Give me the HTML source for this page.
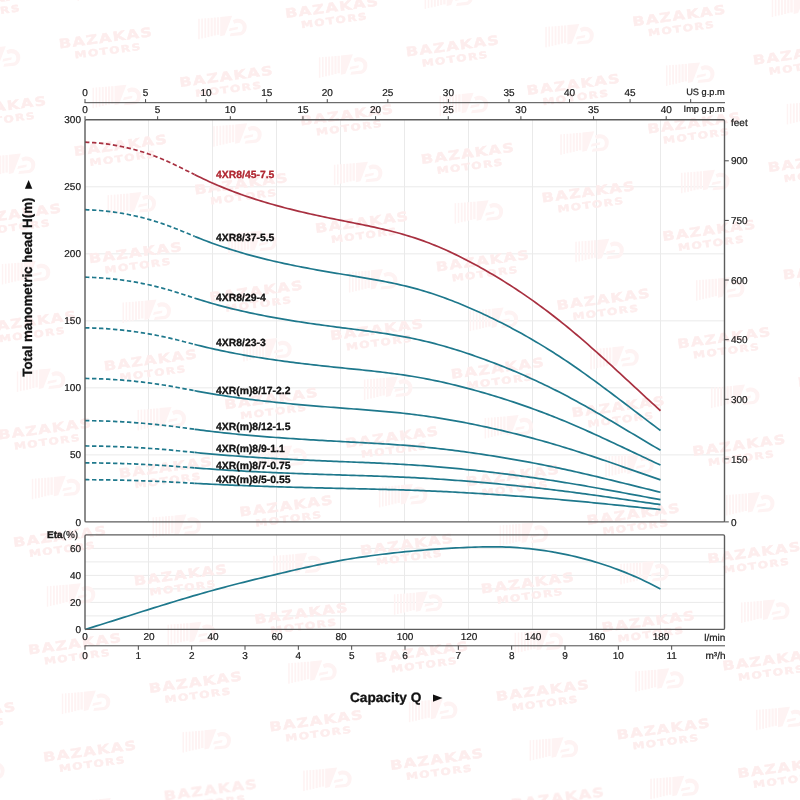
<!DOCTYPE html>
<html lang="en">
<head>
<meta charset="utf-8">
<title>4XR8 pump performance curves</title>
<style>
html,body{margin:0;padding:0;background:#fff;}
body{width:800px;height:800px;overflow:hidden;}
svg{display:block;}
text{font-family:"Liberation Sans", Arial, Helvetica, sans-serif;text-rendering:geometricPrecision;}
.t{font-size:10px;fill:#1a1a1a;stroke:#1a1a1a;stroke-width:0.22px;}
.b{font-size:10.5px;font-weight:bold;fill:#111111;}
.bb{font-weight:bold;stroke-width:0.3px;}
.wm text{font-family:"DejaVu Sans","Liberation Sans",sans-serif;font-weight:bold;fill:#fdeded;stroke:#fdeded;stroke-width:0.45px;letter-spacing:1.1px;}
</style>
</head>
<body>
<svg width="800" height="800" viewBox="0 0 800 800">
<rect x="0" y="0" width="800" height="800" fill="#ffffff"/>
<g stroke="#eaeaea" stroke-width="1.0" fill="none">
<line x1="148.50" y1="119.80" x2="148.50" y2="521.90"/>
<line x1="148.50" y1="534.90" x2="148.50" y2="629.40"/>
<line x1="212.50" y1="119.80" x2="212.50" y2="521.90"/>
<line x1="212.50" y1="534.90" x2="212.50" y2="629.40"/>
<line x1="276.50" y1="119.80" x2="276.50" y2="521.90"/>
<line x1="276.50" y1="534.90" x2="276.50" y2="629.40"/>
<line x1="340.50" y1="119.80" x2="340.50" y2="521.90"/>
<line x1="340.50" y1="534.90" x2="340.50" y2="629.40"/>
<line x1="404.50" y1="119.80" x2="404.50" y2="521.90"/>
<line x1="404.50" y1="534.90" x2="404.50" y2="629.40"/>
<line x1="468.50" y1="119.80" x2="468.50" y2="521.90"/>
<line x1="468.50" y1="534.90" x2="468.50" y2="629.40"/>
<line x1="532.50" y1="119.80" x2="532.50" y2="521.90"/>
<line x1="532.50" y1="534.90" x2="532.50" y2="629.40"/>
<line x1="596.50" y1="119.80" x2="596.50" y2="521.90"/>
<line x1="596.50" y1="534.90" x2="596.50" y2="629.40"/>
<line x1="660.50" y1="119.80" x2="660.50" y2="521.90"/>
<line x1="660.50" y1="534.90" x2="660.50" y2="629.40"/>
<line x1="85.00" y1="454.88" x2="724.50" y2="454.88"/>
<line x1="85.00" y1="387.87" x2="724.50" y2="387.87"/>
<line x1="85.00" y1="320.85" x2="724.50" y2="320.85"/>
<line x1="85.00" y1="253.83" x2="724.50" y2="253.83"/>
<line x1="85.00" y1="186.82" x2="724.50" y2="186.82"/>
<line x1="85.00" y1="615.90" x2="724.50" y2="615.90"/>
<line x1="85.00" y1="602.40" x2="724.50" y2="602.40"/>
<line x1="85.00" y1="588.90" x2="724.50" y2="588.90"/>
<line x1="85.00" y1="575.40" x2="724.50" y2="575.40"/>
<line x1="85.00" y1="561.90" x2="724.50" y2="561.90"/>
<line x1="85.00" y1="548.40" x2="724.50" y2="548.40"/>
</g>
<defs><g id="lg" fill="#fef3f3"><rect x="-24.5" y="-8.5" width="1.5" height="20.5"/><rect x="-21.4" y="-8.8" width="1.6" height="20.0"/><rect x="-18.3" y="-9.0" width="1.8" height="19.5"/><rect x="-15.2" y="-9.2" width="1.9" height="19.0"/><rect x="-12.1" y="-9.5" width="2.1" height="18.5"/><rect x="-9.0" y="-9.8" width="2.2" height="18.0"/><rect x="-5.9" y="-10.0" width="2.4" height="17.5"/><path d="M-2.5 -10.3 L9.5 -11.5 L2 8 L-2.5 9 Z"/><path d="M10 -7 C14 -10 21 -9 23.5 -3.5 C25 1 23 6.5 18.5 8 L7 9 L8 6 L17.5 4.8 C20 4 20.5 0.5 19.5 -2 C18 -5 14 -5 11.5 -3.5 Z"/><path d="M7 1 L15.5 -0.5 L15 2 L6 4 Z"/></g></defs>
<filter id="bl" x="-5%" y="-5%" width="110%" height="110%"><feGaussianBlur stdDeviation="0.55"/></filter>
<g class="wm" filter="url(#bl)">
<g transform="translate(-59.9 502.5) rotate(-7.6)"><text x="0" y="-0.3" text-anchor="middle" font-size="12.8px" textLength="95" lengthAdjust="spacingAndGlyphs">BAZAKAS</text><text x="0.5" y="11.8" text-anchor="middle" font-size="9.5px" textLength="67.5" lengthAdjust="spacingAndGlyphs">MOTORS</text></g>
<use href="#lg" x="-49.4" y="556.2"/>
<g transform="translate(-44.9 609.9) rotate(-7.6)"><text x="0" y="-0.3" text-anchor="middle" font-size="12.8px" textLength="95" lengthAdjust="spacingAndGlyphs">BAZAKAS</text><text x="0.5" y="11.8" text-anchor="middle" font-size="9.5px" textLength="67.5" lengthAdjust="spacingAndGlyphs">MOTORS</text></g>
<use href="#lg" x="-34.4" y="663.6"/>
<g transform="translate(-29.9 717.3) rotate(-7.6)"><text x="0" y="-0.3" text-anchor="middle" font-size="12.8px" textLength="95" lengthAdjust="spacingAndGlyphs">BAZAKAS</text><text x="0.5" y="11.8" text-anchor="middle" font-size="9.5px" textLength="67.5" lengthAdjust="spacingAndGlyphs">MOTORS</text></g>
<use href="#lg" x="-19.4" y="771.0"/>
<g transform="translate(-14.9 824.7) rotate(-7.6)"><text x="0" y="-0.3" text-anchor="middle" font-size="12.8px" textLength="95" lengthAdjust="spacingAndGlyphs">BAZAKAS</text><text x="0.5" y="11.8" text-anchor="middle" font-size="9.5px" textLength="67.5" lengthAdjust="spacingAndGlyphs">MOTORS</text></g>
<g transform="translate(-14.2 4.0) rotate(-7.6)"><text x="0" y="-0.3" text-anchor="middle" font-size="12.8px" textLength="95" lengthAdjust="spacingAndGlyphs">BAZAKAS</text><text x="0.5" y="11.8" text-anchor="middle" font-size="9.5px" textLength="67.5" lengthAdjust="spacingAndGlyphs">MOTORS</text></g>
<use href="#lg" x="-3.7" y="57.7"/>
<g transform="translate(0.8 111.4) rotate(-7.6)"><text x="0" y="-0.3" text-anchor="middle" font-size="12.8px" textLength="95" lengthAdjust="spacingAndGlyphs">BAZAKAS</text><text x="0.5" y="11.8" text-anchor="middle" font-size="9.5px" textLength="67.5" lengthAdjust="spacingAndGlyphs">MOTORS</text></g>
<use href="#lg" x="11.3" y="165.1"/>
<g transform="translate(15.8 218.8) rotate(-7.6)"><text x="0" y="-0.3" text-anchor="middle" font-size="12.8px" textLength="95" lengthAdjust="spacingAndGlyphs">BAZAKAS</text><text x="0.5" y="11.8" text-anchor="middle" font-size="9.5px" textLength="67.5" lengthAdjust="spacingAndGlyphs">MOTORS</text></g>
<use href="#lg" x="26.3" y="272.5"/>
<g transform="translate(30.8 326.2) rotate(-7.6)"><text x="0" y="-0.3" text-anchor="middle" font-size="12.8px" textLength="95" lengthAdjust="spacingAndGlyphs">BAZAKAS</text><text x="0.5" y="11.8" text-anchor="middle" font-size="9.5px" textLength="67.5" lengthAdjust="spacingAndGlyphs">MOTORS</text></g>
<use href="#lg" x="41.3" y="379.9"/>
<g transform="translate(45.8 433.6) rotate(-7.6)"><text x="0" y="-0.3" text-anchor="middle" font-size="12.8px" textLength="95" lengthAdjust="spacingAndGlyphs">BAZAKAS</text><text x="0.5" y="11.8" text-anchor="middle" font-size="9.5px" textLength="67.5" lengthAdjust="spacingAndGlyphs">MOTORS</text></g>
<use href="#lg" x="56.3" y="487.3"/>
<g transform="translate(60.8 541.0) rotate(-7.6)"><text x="0" y="-0.3" text-anchor="middle" font-size="12.8px" textLength="95" lengthAdjust="spacingAndGlyphs">BAZAKAS</text><text x="0.5" y="11.8" text-anchor="middle" font-size="9.5px" textLength="67.5" lengthAdjust="spacingAndGlyphs">MOTORS</text></g>
<use href="#lg" x="71.3" y="594.7"/>
<g transform="translate(75.8 648.4) rotate(-7.6)"><text x="0" y="-0.3" text-anchor="middle" font-size="12.8px" textLength="95" lengthAdjust="spacingAndGlyphs">BAZAKAS</text><text x="0.5" y="11.8" text-anchor="middle" font-size="9.5px" textLength="67.5" lengthAdjust="spacingAndGlyphs">MOTORS</text></g>
<use href="#lg" x="86.3" y="702.1"/>
<g transform="translate(90.8 755.8) rotate(-7.6)"><text x="0" y="-0.3" text-anchor="middle" font-size="12.8px" textLength="95" lengthAdjust="spacingAndGlyphs">BAZAKAS</text><text x="0.5" y="11.8" text-anchor="middle" font-size="9.5px" textLength="67.5" lengthAdjust="spacingAndGlyphs">MOTORS</text></g>
<use href="#lg" x="101.3" y="809.5"/>
<use href="#lg" x="102.0" y="-11.2"/>
<g transform="translate(106.5 42.5) rotate(-7.6)"><text x="0" y="-0.3" text-anchor="middle" font-size="12.8px" textLength="95" lengthAdjust="spacingAndGlyphs">BAZAKAS</text><text x="0.5" y="11.8" text-anchor="middle" font-size="9.5px" textLength="67.5" lengthAdjust="spacingAndGlyphs">MOTORS</text></g>
<use href="#lg" x="117.0" y="96.2"/>
<g transform="translate(121.5 149.9) rotate(-7.6)"><text x="0" y="-0.3" text-anchor="middle" font-size="12.8px" textLength="95" lengthAdjust="spacingAndGlyphs">BAZAKAS</text><text x="0.5" y="11.8" text-anchor="middle" font-size="9.5px" textLength="67.5" lengthAdjust="spacingAndGlyphs">MOTORS</text></g>
<use href="#lg" x="132.0" y="203.6"/>
<g transform="translate(136.5 257.3) rotate(-7.6)"><text x="0" y="-0.3" text-anchor="middle" font-size="12.8px" textLength="95" lengthAdjust="spacingAndGlyphs">BAZAKAS</text><text x="0.5" y="11.8" text-anchor="middle" font-size="9.5px" textLength="67.5" lengthAdjust="spacingAndGlyphs">MOTORS</text></g>
<use href="#lg" x="147.0" y="311.0"/>
<g transform="translate(151.5 364.7) rotate(-7.6)"><text x="0" y="-0.3" text-anchor="middle" font-size="12.8px" textLength="95" lengthAdjust="spacingAndGlyphs">BAZAKAS</text><text x="0.5" y="11.8" text-anchor="middle" font-size="9.5px" textLength="67.5" lengthAdjust="spacingAndGlyphs">MOTORS</text></g>
<use href="#lg" x="162.0" y="418.4"/>
<g transform="translate(166.5 472.1) rotate(-7.6)"><text x="0" y="-0.3" text-anchor="middle" font-size="12.8px" textLength="95" lengthAdjust="spacingAndGlyphs">BAZAKAS</text><text x="0.5" y="11.8" text-anchor="middle" font-size="9.5px" textLength="67.5" lengthAdjust="spacingAndGlyphs">MOTORS</text></g>
<use href="#lg" x="177.0" y="525.8"/>
<g transform="translate(181.5 579.5) rotate(-7.6)"><text x="0" y="-0.3" text-anchor="middle" font-size="12.8px" textLength="95" lengthAdjust="spacingAndGlyphs">BAZAKAS</text><text x="0.5" y="11.8" text-anchor="middle" font-size="9.5px" textLength="67.5" lengthAdjust="spacingAndGlyphs">MOTORS</text></g>
<use href="#lg" x="192.0" y="633.2"/>
<g transform="translate(196.5 686.9) rotate(-7.6)"><text x="0" y="-0.3" text-anchor="middle" font-size="12.8px" textLength="95" lengthAdjust="spacingAndGlyphs">BAZAKAS</text><text x="0.5" y="11.8" text-anchor="middle" font-size="9.5px" textLength="67.5" lengthAdjust="spacingAndGlyphs">MOTORS</text></g>
<use href="#lg" x="207.0" y="740.6"/>
<g transform="translate(211.5 794.3) rotate(-7.6)"><text x="0" y="-0.3" text-anchor="middle" font-size="12.8px" textLength="95" lengthAdjust="spacingAndGlyphs">BAZAKAS</text><text x="0.5" y="11.8" text-anchor="middle" font-size="9.5px" textLength="67.5" lengthAdjust="spacingAndGlyphs">MOTORS</text></g>
<use href="#lg" x="222.7" y="27.3"/>
<g transform="translate(227.2 81.0) rotate(-7.6)"><text x="0" y="-0.3" text-anchor="middle" font-size="12.8px" textLength="95" lengthAdjust="spacingAndGlyphs">BAZAKAS</text><text x="0.5" y="11.8" text-anchor="middle" font-size="9.5px" textLength="67.5" lengthAdjust="spacingAndGlyphs">MOTORS</text></g>
<use href="#lg" x="237.7" y="134.7"/>
<g transform="translate(242.2 188.4) rotate(-7.6)"><text x="0" y="-0.3" text-anchor="middle" font-size="12.8px" textLength="95" lengthAdjust="spacingAndGlyphs">BAZAKAS</text><text x="0.5" y="11.8" text-anchor="middle" font-size="9.5px" textLength="67.5" lengthAdjust="spacingAndGlyphs">MOTORS</text></g>
<use href="#lg" x="252.7" y="242.1"/>
<g transform="translate(257.2 295.8) rotate(-7.6)"><text x="0" y="-0.3" text-anchor="middle" font-size="12.8px" textLength="95" lengthAdjust="spacingAndGlyphs">BAZAKAS</text><text x="0.5" y="11.8" text-anchor="middle" font-size="9.5px" textLength="67.5" lengthAdjust="spacingAndGlyphs">MOTORS</text></g>
<use href="#lg" x="267.7" y="349.5"/>
<g transform="translate(272.2 403.2) rotate(-7.6)"><text x="0" y="-0.3" text-anchor="middle" font-size="12.8px" textLength="95" lengthAdjust="spacingAndGlyphs">BAZAKAS</text><text x="0.5" y="11.8" text-anchor="middle" font-size="9.5px" textLength="67.5" lengthAdjust="spacingAndGlyphs">MOTORS</text></g>
<use href="#lg" x="282.7" y="456.9"/>
<g transform="translate(287.2 510.6) rotate(-7.6)"><text x="0" y="-0.3" text-anchor="middle" font-size="12.8px" textLength="95" lengthAdjust="spacingAndGlyphs">BAZAKAS</text><text x="0.5" y="11.8" text-anchor="middle" font-size="9.5px" textLength="67.5" lengthAdjust="spacingAndGlyphs">MOTORS</text></g>
<use href="#lg" x="297.7" y="564.3"/>
<g transform="translate(302.2 618.0) rotate(-7.6)"><text x="0" y="-0.3" text-anchor="middle" font-size="12.8px" textLength="95" lengthAdjust="spacingAndGlyphs">BAZAKAS</text><text x="0.5" y="11.8" text-anchor="middle" font-size="9.5px" textLength="67.5" lengthAdjust="spacingAndGlyphs">MOTORS</text></g>
<use href="#lg" x="312.7" y="671.7"/>
<g transform="translate(317.2 725.4) rotate(-7.6)"><text x="0" y="-0.3" text-anchor="middle" font-size="12.8px" textLength="95" lengthAdjust="spacingAndGlyphs">BAZAKAS</text><text x="0.5" y="11.8" text-anchor="middle" font-size="9.5px" textLength="67.5" lengthAdjust="spacingAndGlyphs">MOTORS</text></g>
<use href="#lg" x="327.7" y="779.1"/>
<g transform="translate(332.9 12.1) rotate(-7.6)"><text x="0" y="-0.3" text-anchor="middle" font-size="12.8px" textLength="95" lengthAdjust="spacingAndGlyphs">BAZAKAS</text><text x="0.5" y="11.8" text-anchor="middle" font-size="9.5px" textLength="67.5" lengthAdjust="spacingAndGlyphs">MOTORS</text></g>
<use href="#lg" x="343.4" y="65.8"/>
<g transform="translate(347.9 119.5) rotate(-7.6)"><text x="0" y="-0.3" text-anchor="middle" font-size="12.8px" textLength="95" lengthAdjust="spacingAndGlyphs">BAZAKAS</text><text x="0.5" y="11.8" text-anchor="middle" font-size="9.5px" textLength="67.5" lengthAdjust="spacingAndGlyphs">MOTORS</text></g>
<use href="#lg" x="358.4" y="173.2"/>
<g transform="translate(362.9 226.9) rotate(-7.6)"><text x="0" y="-0.3" text-anchor="middle" font-size="12.8px" textLength="95" lengthAdjust="spacingAndGlyphs">BAZAKAS</text><text x="0.5" y="11.8" text-anchor="middle" font-size="9.5px" textLength="67.5" lengthAdjust="spacingAndGlyphs">MOTORS</text></g>
<use href="#lg" x="373.4" y="280.6"/>
<g transform="translate(377.9 334.3) rotate(-7.6)"><text x="0" y="-0.3" text-anchor="middle" font-size="12.8px" textLength="95" lengthAdjust="spacingAndGlyphs">BAZAKAS</text><text x="0.5" y="11.8" text-anchor="middle" font-size="9.5px" textLength="67.5" lengthAdjust="spacingAndGlyphs">MOTORS</text></g>
<use href="#lg" x="388.4" y="388.0"/>
<g transform="translate(392.9 441.7) rotate(-7.6)"><text x="0" y="-0.3" text-anchor="middle" font-size="12.8px" textLength="95" lengthAdjust="spacingAndGlyphs">BAZAKAS</text><text x="0.5" y="11.8" text-anchor="middle" font-size="9.5px" textLength="67.5" lengthAdjust="spacingAndGlyphs">MOTORS</text></g>
<use href="#lg" x="403.4" y="495.4"/>
<g transform="translate(407.9 549.1) rotate(-7.6)"><text x="0" y="-0.3" text-anchor="middle" font-size="12.8px" textLength="95" lengthAdjust="spacingAndGlyphs">BAZAKAS</text><text x="0.5" y="11.8" text-anchor="middle" font-size="9.5px" textLength="67.5" lengthAdjust="spacingAndGlyphs">MOTORS</text></g>
<use href="#lg" x="418.4" y="602.8"/>
<g transform="translate(422.9 656.5) rotate(-7.6)"><text x="0" y="-0.3" text-anchor="middle" font-size="12.8px" textLength="95" lengthAdjust="spacingAndGlyphs">BAZAKAS</text><text x="0.5" y="11.8" text-anchor="middle" font-size="9.5px" textLength="67.5" lengthAdjust="spacingAndGlyphs">MOTORS</text></g>
<use href="#lg" x="433.4" y="710.2"/>
<g transform="translate(437.9 763.9) rotate(-7.6)"><text x="0" y="-0.3" text-anchor="middle" font-size="12.8px" textLength="95" lengthAdjust="spacingAndGlyphs">BAZAKAS</text><text x="0.5" y="11.8" text-anchor="middle" font-size="9.5px" textLength="67.5" lengthAdjust="spacingAndGlyphs">MOTORS</text></g>
<use href="#lg" x="448.4" y="817.6"/>
<use href="#lg" x="449.1" y="-3.1"/>
<g transform="translate(453.6 50.6) rotate(-7.6)"><text x="0" y="-0.3" text-anchor="middle" font-size="12.8px" textLength="95" lengthAdjust="spacingAndGlyphs">BAZAKAS</text><text x="0.5" y="11.8" text-anchor="middle" font-size="9.5px" textLength="67.5" lengthAdjust="spacingAndGlyphs">MOTORS</text></g>
<use href="#lg" x="464.1" y="104.3"/>
<g transform="translate(468.6 158.0) rotate(-7.6)"><text x="0" y="-0.3" text-anchor="middle" font-size="12.8px" textLength="95" lengthAdjust="spacingAndGlyphs">BAZAKAS</text><text x="0.5" y="11.8" text-anchor="middle" font-size="9.5px" textLength="67.5" lengthAdjust="spacingAndGlyphs">MOTORS</text></g>
<use href="#lg" x="479.1" y="211.7"/>
<g transform="translate(483.6 265.4) rotate(-7.6)"><text x="0" y="-0.3" text-anchor="middle" font-size="12.8px" textLength="95" lengthAdjust="spacingAndGlyphs">BAZAKAS</text><text x="0.5" y="11.8" text-anchor="middle" font-size="9.5px" textLength="67.5" lengthAdjust="spacingAndGlyphs">MOTORS</text></g>
<use href="#lg" x="494.1" y="319.1"/>
<g transform="translate(498.6 372.8) rotate(-7.6)"><text x="0" y="-0.3" text-anchor="middle" font-size="12.8px" textLength="95" lengthAdjust="spacingAndGlyphs">BAZAKAS</text><text x="0.5" y="11.8" text-anchor="middle" font-size="9.5px" textLength="67.5" lengthAdjust="spacingAndGlyphs">MOTORS</text></g>
<use href="#lg" x="509.1" y="426.5"/>
<g transform="translate(513.6 480.2) rotate(-7.6)"><text x="0" y="-0.3" text-anchor="middle" font-size="12.8px" textLength="95" lengthAdjust="spacingAndGlyphs">BAZAKAS</text><text x="0.5" y="11.8" text-anchor="middle" font-size="9.5px" textLength="67.5" lengthAdjust="spacingAndGlyphs">MOTORS</text></g>
<use href="#lg" x="524.1" y="533.9"/>
<g transform="translate(528.6 587.6) rotate(-7.6)"><text x="0" y="-0.3" text-anchor="middle" font-size="12.8px" textLength="95" lengthAdjust="spacingAndGlyphs">BAZAKAS</text><text x="0.5" y="11.8" text-anchor="middle" font-size="9.5px" textLength="67.5" lengthAdjust="spacingAndGlyphs">MOTORS</text></g>
<use href="#lg" x="539.1" y="641.3"/>
<g transform="translate(543.6 695.0) rotate(-7.6)"><text x="0" y="-0.3" text-anchor="middle" font-size="12.8px" textLength="95" lengthAdjust="spacingAndGlyphs">BAZAKAS</text><text x="0.5" y="11.8" text-anchor="middle" font-size="9.5px" textLength="67.5" lengthAdjust="spacingAndGlyphs">MOTORS</text></g>
<use href="#lg" x="554.1" y="748.7"/>
<g transform="translate(558.6 802.4) rotate(-7.6)"><text x="0" y="-0.3" text-anchor="middle" font-size="12.8px" textLength="95" lengthAdjust="spacingAndGlyphs">BAZAKAS</text><text x="0.5" y="11.8" text-anchor="middle" font-size="9.5px" textLength="67.5" lengthAdjust="spacingAndGlyphs">MOTORS</text></g>
<g transform="translate(559.3 -18.3) rotate(-7.6)"><text x="0" y="-0.3" text-anchor="middle" font-size="12.8px" textLength="95" lengthAdjust="spacingAndGlyphs">BAZAKAS</text><text x="0.5" y="11.8" text-anchor="middle" font-size="9.5px" textLength="67.5" lengthAdjust="spacingAndGlyphs">MOTORS</text></g>
<use href="#lg" x="569.8" y="35.4"/>
<g transform="translate(574.3 89.1) rotate(-7.6)"><text x="0" y="-0.3" text-anchor="middle" font-size="12.8px" textLength="95" lengthAdjust="spacingAndGlyphs">BAZAKAS</text><text x="0.5" y="11.8" text-anchor="middle" font-size="9.5px" textLength="67.5" lengthAdjust="spacingAndGlyphs">MOTORS</text></g>
<use href="#lg" x="584.8" y="142.8"/>
<g transform="translate(589.3 196.5) rotate(-7.6)"><text x="0" y="-0.3" text-anchor="middle" font-size="12.8px" textLength="95" lengthAdjust="spacingAndGlyphs">BAZAKAS</text><text x="0.5" y="11.8" text-anchor="middle" font-size="9.5px" textLength="67.5" lengthAdjust="spacingAndGlyphs">MOTORS</text></g>
<use href="#lg" x="599.8" y="250.2"/>
<g transform="translate(604.3 303.9) rotate(-7.6)"><text x="0" y="-0.3" text-anchor="middle" font-size="12.8px" textLength="95" lengthAdjust="spacingAndGlyphs">BAZAKAS</text><text x="0.5" y="11.8" text-anchor="middle" font-size="9.5px" textLength="67.5" lengthAdjust="spacingAndGlyphs">MOTORS</text></g>
<use href="#lg" x="614.8" y="357.6"/>
<g transform="translate(619.3 411.3) rotate(-7.6)"><text x="0" y="-0.3" text-anchor="middle" font-size="12.8px" textLength="95" lengthAdjust="spacingAndGlyphs">BAZAKAS</text><text x="0.5" y="11.8" text-anchor="middle" font-size="9.5px" textLength="67.5" lengthAdjust="spacingAndGlyphs">MOTORS</text></g>
<use href="#lg" x="629.8" y="465.0"/>
<g transform="translate(634.3 518.7) rotate(-7.6)"><text x="0" y="-0.3" text-anchor="middle" font-size="12.8px" textLength="95" lengthAdjust="spacingAndGlyphs">BAZAKAS</text><text x="0.5" y="11.8" text-anchor="middle" font-size="9.5px" textLength="67.5" lengthAdjust="spacingAndGlyphs">MOTORS</text></g>
<use href="#lg" x="644.8" y="572.4"/>
<g transform="translate(649.3 626.1) rotate(-7.6)"><text x="0" y="-0.3" text-anchor="middle" font-size="12.8px" textLength="95" lengthAdjust="spacingAndGlyphs">BAZAKAS</text><text x="0.5" y="11.8" text-anchor="middle" font-size="9.5px" textLength="67.5" lengthAdjust="spacingAndGlyphs">MOTORS</text></g>
<use href="#lg" x="659.8" y="679.8"/>
<g transform="translate(664.3 733.5) rotate(-7.6)"><text x="0" y="-0.3" text-anchor="middle" font-size="12.8px" textLength="95" lengthAdjust="spacingAndGlyphs">BAZAKAS</text><text x="0.5" y="11.8" text-anchor="middle" font-size="9.5px" textLength="67.5" lengthAdjust="spacingAndGlyphs">MOTORS</text></g>
<use href="#lg" x="674.8" y="787.2"/>
<g transform="translate(680.0 20.2) rotate(-7.6)"><text x="0" y="-0.3" text-anchor="middle" font-size="12.8px" textLength="95" lengthAdjust="spacingAndGlyphs">BAZAKAS</text><text x="0.5" y="11.8" text-anchor="middle" font-size="9.5px" textLength="67.5" lengthAdjust="spacingAndGlyphs">MOTORS</text></g>
<use href="#lg" x="690.5" y="73.9"/>
<g transform="translate(695.0 127.6) rotate(-7.6)"><text x="0" y="-0.3" text-anchor="middle" font-size="12.8px" textLength="95" lengthAdjust="spacingAndGlyphs">BAZAKAS</text><text x="0.5" y="11.8" text-anchor="middle" font-size="9.5px" textLength="67.5" lengthAdjust="spacingAndGlyphs">MOTORS</text></g>
<use href="#lg" x="705.5" y="181.3"/>
<g transform="translate(710.0 235.0) rotate(-7.6)"><text x="0" y="-0.3" text-anchor="middle" font-size="12.8px" textLength="95" lengthAdjust="spacingAndGlyphs">BAZAKAS</text><text x="0.5" y="11.8" text-anchor="middle" font-size="9.5px" textLength="67.5" lengthAdjust="spacingAndGlyphs">MOTORS</text></g>
<use href="#lg" x="720.5" y="288.7"/>
<g transform="translate(725.0 342.4) rotate(-7.6)"><text x="0" y="-0.3" text-anchor="middle" font-size="12.8px" textLength="95" lengthAdjust="spacingAndGlyphs">BAZAKAS</text><text x="0.5" y="11.8" text-anchor="middle" font-size="9.5px" textLength="67.5" lengthAdjust="spacingAndGlyphs">MOTORS</text></g>
<use href="#lg" x="735.5" y="396.1"/>
<g transform="translate(740.0 449.8) rotate(-7.6)"><text x="0" y="-0.3" text-anchor="middle" font-size="12.8px" textLength="95" lengthAdjust="spacingAndGlyphs">BAZAKAS</text><text x="0.5" y="11.8" text-anchor="middle" font-size="9.5px" textLength="67.5" lengthAdjust="spacingAndGlyphs">MOTORS</text></g>
<use href="#lg" x="750.5" y="503.5"/>
<g transform="translate(755.0 557.2) rotate(-7.6)"><text x="0" y="-0.3" text-anchor="middle" font-size="12.8px" textLength="95" lengthAdjust="spacingAndGlyphs">BAZAKAS</text><text x="0.5" y="11.8" text-anchor="middle" font-size="9.5px" textLength="67.5" lengthAdjust="spacingAndGlyphs">MOTORS</text></g>
<use href="#lg" x="765.5" y="610.9"/>
<g transform="translate(770.0 664.6) rotate(-7.6)"><text x="0" y="-0.3" text-anchor="middle" font-size="12.8px" textLength="95" lengthAdjust="spacingAndGlyphs">BAZAKAS</text><text x="0.5" y="11.8" text-anchor="middle" font-size="9.5px" textLength="67.5" lengthAdjust="spacingAndGlyphs">MOTORS</text></g>
<use href="#lg" x="780.5" y="718.3"/>
<g transform="translate(785.0 772.0) rotate(-7.6)"><text x="0" y="-0.3" text-anchor="middle" font-size="12.8px" textLength="95" lengthAdjust="spacingAndGlyphs">BAZAKAS</text><text x="0.5" y="11.8" text-anchor="middle" font-size="9.5px" textLength="67.5" lengthAdjust="spacingAndGlyphs">MOTORS</text></g>
<use href="#lg" x="796.2" y="5.0"/>
<g transform="translate(800.7 58.7) rotate(-7.6)"><text x="0" y="-0.3" text-anchor="middle" font-size="12.8px" textLength="95" lengthAdjust="spacingAndGlyphs">BAZAKAS</text><text x="0.5" y="11.8" text-anchor="middle" font-size="9.5px" textLength="67.5" lengthAdjust="spacingAndGlyphs">MOTORS</text></g>
<use href="#lg" x="811.2" y="112.4"/>
<g transform="translate(815.7 166.1) rotate(-7.6)"><text x="0" y="-0.3" text-anchor="middle" font-size="12.8px" textLength="95" lengthAdjust="spacingAndGlyphs">BAZAKAS</text><text x="0.5" y="11.8" text-anchor="middle" font-size="9.5px" textLength="67.5" lengthAdjust="spacingAndGlyphs">MOTORS</text></g>
<use href="#lg" x="826.2" y="219.8"/>
<g transform="translate(830.7 273.5) rotate(-7.6)"><text x="0" y="-0.3" text-anchor="middle" font-size="12.8px" textLength="95" lengthAdjust="spacingAndGlyphs">BAZAKAS</text><text x="0.5" y="11.8" text-anchor="middle" font-size="9.5px" textLength="67.5" lengthAdjust="spacingAndGlyphs">MOTORS</text></g>
<use href="#lg" x="841.2" y="327.2"/>
<g transform="translate(845.7 380.9) rotate(-7.6)"><text x="0" y="-0.3" text-anchor="middle" font-size="12.8px" textLength="95" lengthAdjust="spacingAndGlyphs">BAZAKAS</text><text x="0.5" y="11.8" text-anchor="middle" font-size="9.5px" textLength="67.5" lengthAdjust="spacingAndGlyphs">MOTORS</text></g>
<use href="#lg" x="856.2" y="434.6"/>
</g>
<path d="M85.00 142.20 L87.89 142.31 L90.78 142.46 L93.68 142.65 L96.57 142.88 L99.46 143.15 L102.35 143.46 L105.24 143.81 L108.14 144.20 L111.03 144.62 L113.92 145.09 L116.81 145.60 L119.70 146.15 L122.60 146.74 L125.49 147.38 L128.38 148.05 L131.27 148.77 L134.16 149.52 L137.06 150.33 L139.95 151.17 L142.84 152.05 L145.73 152.98 L148.62 153.95 L151.52 154.97 L154.41 156.03 L157.30 157.13 L160.19 158.28 L163.08 159.47 L165.97 160.70 L168.87 161.98 L171.76 163.31 L174.65 164.67 L177.54 166.07 L180.43 167.49 L183.33 168.94 L186.22 170.39 L189.11 171.86 L192.00 173.31 L194.50 174.56" fill="none" stroke="#a83040" stroke-width="1.7" stroke-dasharray="4.4 2.6" stroke-dashoffset="0"/>
<path d="M194.50 174.56 L194.89 174.76 L197.79 176.19 L200.68 177.60 L203.57 178.98 L206.46 180.33 L209.35 181.65 L212.25 182.94 L215.14 184.20 L218.03 185.44 L220.92 186.65 L223.81 187.84 L226.71 189.00 L229.60 190.14 L232.49 191.25 L235.38 192.33 L238.27 193.40 L241.17 194.44 L244.06 195.46 L246.95 196.46 L249.84 197.43 L252.73 198.39 L255.63 199.32 L258.52 200.24 L261.41 201.14 L264.30 202.02 L267.19 202.88 L270.09 203.72 L272.98 204.55 L275.87 205.36 L278.76 206.15 L281.65 206.93 L284.55 207.70 L287.44 208.45 L290.33 209.18 L293.22 209.91 L296.11 210.62 L299.01 211.31 L301.90 212.00 L304.79 212.68 L307.68 213.34 L310.57 214.00 L313.46 214.64 L316.36 215.28 L319.25 215.91 L322.14 216.53 L325.03 217.14 L327.92 217.75 L330.82 218.35 L333.71 218.94 L336.60 219.53 L339.49 220.12 L342.38 220.70 L345.28 221.27 L348.17 221.85 L351.06 222.43 L353.95 223.00 L356.84 223.58 L359.74 224.16 L362.63 224.75 L365.52 225.35 L368.41 225.95 L371.30 226.57 L374.20 227.19 L377.09 227.83 L379.98 228.48 L382.87 229.14 L385.76 229.83 L388.66 230.53 L391.55 231.25 L394.44 231.99 L397.33 232.76 L400.22 233.55 L403.12 234.36 L406.01 235.20 L408.90 236.07 L411.79 236.97 L414.68 237.90 L417.58 238.86 L420.47 239.86 L423.36 240.89 L426.25 241.95 L429.14 243.05 L432.04 244.18 L434.93 245.35 L437.82 246.54 L440.71 247.77 L443.60 249.03 L446.49 250.32 L449.39 251.64 L452.28 252.99 L455.17 254.36 L458.06 255.77 L460.95 257.20 L463.85 258.66 L466.74 260.14 L469.63 261.65 L472.52 263.19 L475.41 264.75 L478.31 266.33 L481.20 267.93 L484.09 269.56 L486.98 271.22 L489.87 272.89 L492.77 274.59 L495.66 276.31 L498.55 278.06 L501.44 279.83 L504.33 281.62 L507.23 283.44 L510.12 285.28 L513.01 287.15 L515.90 289.04 L518.79 290.96 L521.69 292.90 L524.58 294.87 L527.47 296.86 L530.36 298.88 L533.25 300.92 L536.15 302.99 L539.04 305.08 L541.93 307.21 L544.82 309.35 L547.71 311.53 L550.61 313.73 L553.50 315.96 L556.39 318.21 L559.28 320.49 L562.17 322.80 L565.07 325.14 L567.96 327.50 L570.85 329.89 L573.74 332.31 L576.63 334.75 L579.53 337.21 L582.42 339.70 L585.31 342.20 L588.20 344.73 L591.09 347.27 L593.98 349.83 L596.88 352.41 L599.77 355.00 L602.66 357.60 L605.55 360.22 L608.44 362.85 L611.34 365.49 L614.23 368.13 L617.12 370.79 L620.01 373.45 L622.90 376.12 L625.80 378.79 L628.69 381.46 L631.58 384.14 L634.47 386.82 L637.36 389.49 L640.26 392.17 L643.15 394.84 L646.04 397.51 L648.93 400.17 L651.82 402.83 L654.72 405.48 L657.61 408.12 L660.50 410.75" fill="none" stroke="#a83040" stroke-width="1.7"/>
<path d="M85.00 209.70 L87.89 209.79 L90.78 209.92 L93.68 210.07 L96.57 210.26 L99.46 210.48 L102.35 210.74 L105.24 211.02 L108.14 211.34 L111.03 211.70 L113.92 212.08 L116.81 212.50 L119.70 212.95 L122.60 213.44 L125.49 213.96 L128.38 214.51 L131.27 215.10 L134.16 215.72 L137.06 216.38 L139.95 217.08 L142.84 217.80 L145.73 218.57 L148.62 219.37 L151.52 220.20 L154.41 221.07 L157.30 221.98 L160.19 222.92 L163.08 223.90 L165.97 224.91 L168.87 225.97 L171.76 227.06 L174.65 228.18 L177.54 229.33 L180.43 230.50 L183.33 231.69 L186.22 232.88 L189.11 234.09 L192.00 235.28 L194.50 236.31" fill="none" stroke="#1e788c" stroke-width="1.7" stroke-dasharray="4.4 2.6" stroke-dashoffset="0"/>
<path d="M194.50 236.31 L194.89 236.48 L197.79 237.65 L200.68 238.81 L203.57 239.94 L206.46 241.05 L209.35 242.14 L212.25 243.20 L215.14 244.24 L218.03 245.26 L220.92 246.25 L223.81 247.23 L226.71 248.18 L229.60 249.12 L232.49 250.03 L235.38 250.92 L238.27 251.80 L241.17 252.65 L244.06 253.49 L246.95 254.31 L249.84 255.12 L252.73 255.90 L255.63 256.67 L258.52 257.42 L261.41 258.16 L264.30 258.89 L267.19 259.59 L270.09 260.29 L272.98 260.97 L275.87 261.63 L278.76 262.29 L281.65 262.93 L284.55 263.55 L287.44 264.17 L290.33 264.78 L293.22 265.37 L296.11 265.96 L299.01 266.53 L301.90 267.09 L304.79 267.65 L307.68 268.20 L310.57 268.74 L313.46 269.27 L316.36 269.79 L319.25 270.31 L322.14 270.82 L325.03 271.32 L327.92 271.82 L330.82 272.31 L333.71 272.80 L336.60 273.29 L339.49 273.77 L342.38 274.24 L345.28 274.72 L348.17 275.19 L351.06 275.67 L353.95 276.14 L356.84 276.62 L359.74 277.09 L362.63 277.58 L365.52 278.07 L368.41 278.56 L371.30 279.07 L374.20 279.58 L377.09 280.11 L379.98 280.64 L382.87 281.19 L385.76 281.75 L388.66 282.33 L391.55 282.92 L394.44 283.53 L397.33 284.16 L400.22 284.81 L403.12 285.48 L406.01 286.17 L408.90 286.88 L411.79 287.62 L414.68 288.39 L417.58 289.18 L420.47 290.00 L423.36 290.85 L426.25 291.72 L429.14 292.62 L432.04 293.56 L434.93 294.51 L437.82 295.50 L440.71 296.51 L443.60 297.54 L446.49 298.60 L449.39 299.69 L452.28 300.79 L455.17 301.93 L458.06 303.08 L460.95 304.26 L463.85 305.46 L466.74 306.68 L469.63 307.92 L472.52 309.18 L475.41 310.46 L478.31 311.76 L481.20 313.08 L484.09 314.42 L486.98 315.78 L489.87 317.16 L492.77 318.56 L495.66 319.97 L498.55 321.41 L501.44 322.86 L504.33 324.34 L507.23 325.83 L510.12 327.35 L513.01 328.88 L515.90 330.44 L518.79 332.01 L521.69 333.61 L524.58 335.23 L527.47 336.87 L530.36 338.52 L533.25 340.20 L536.15 341.91 L539.04 343.63 L541.93 345.37 L544.82 347.14 L547.71 348.93 L550.61 350.74 L553.50 352.57 L556.39 354.42 L559.28 356.30 L562.17 358.20 L565.07 360.12 L567.96 362.06 L570.85 364.03 L573.74 366.01 L576.63 368.02 L579.53 370.05 L582.42 372.09 L585.31 374.15 L588.20 376.23 L591.09 378.32 L593.98 380.42 L596.88 382.54 L599.77 384.67 L602.66 386.81 L605.55 388.96 L608.44 391.12 L611.34 393.29 L614.23 395.47 L617.12 397.65 L620.01 399.84 L622.90 402.03 L625.80 404.23 L628.69 406.43 L631.58 408.63 L634.47 410.83 L637.36 413.03 L640.26 415.23 L643.15 417.43 L646.04 419.62 L648.93 421.81 L651.82 424.00 L654.72 426.18 L657.61 428.35 L660.50 430.51" fill="none" stroke="#1e788c" stroke-width="1.7"/>
<path d="M85.00 277.20 L87.89 277.27 L90.78 277.37 L93.68 277.50 L96.57 277.64 L99.46 277.82 L102.35 278.02 L105.24 278.24 L108.14 278.49 L111.03 278.77 L113.92 279.07 L116.81 279.40 L119.70 279.75 L122.60 280.13 L125.49 280.54 L128.38 280.97 L131.27 281.44 L134.16 281.92 L137.06 282.44 L139.95 282.98 L142.84 283.55 L145.73 284.15 L148.62 284.78 L151.52 285.43 L154.41 286.11 L157.30 286.83 L160.19 287.56 L163.08 288.33 L165.97 289.13 L168.87 289.95 L171.76 290.81 L174.65 291.69 L177.54 292.59 L180.43 293.51 L183.33 294.44 L186.22 295.37 L189.11 296.32 L192.00 297.26 L194.50 298.06" fill="none" stroke="#1e788c" stroke-width="1.7" stroke-dasharray="4.4 2.6" stroke-dashoffset="0"/>
<path d="M194.50 298.06 L194.89 298.19 L197.79 299.11 L200.68 300.02 L203.57 300.91 L206.46 301.78 L209.35 302.63 L212.25 303.46 L215.14 304.27 L218.03 305.07 L220.92 305.85 L223.81 306.62 L226.71 307.36 L229.60 308.10 L232.49 308.81 L235.38 309.51 L238.27 310.20 L241.17 310.87 L244.06 311.53 L246.95 312.17 L249.84 312.80 L252.73 313.42 L255.63 314.02 L258.52 314.61 L261.41 315.19 L264.30 315.75 L267.19 316.31 L270.09 316.85 L272.98 317.38 L275.87 317.91 L278.76 318.42 L281.65 318.92 L284.55 319.41 L287.44 319.90 L290.33 320.37 L293.22 320.84 L296.11 321.30 L299.01 321.75 L301.90 322.19 L304.79 322.62 L307.68 323.05 L310.57 323.47 L313.46 323.89 L316.36 324.30 L319.25 324.71 L322.14 325.11 L325.03 325.50 L327.92 325.89 L330.82 326.28 L333.71 326.66 L336.60 327.04 L339.49 327.42 L342.38 327.79 L345.28 328.16 L348.17 328.53 L351.06 328.91 L353.95 329.28 L356.84 329.65 L359.74 330.03 L362.63 330.40 L365.52 330.79 L368.41 331.18 L371.30 331.57 L374.20 331.98 L377.09 332.39 L379.98 332.81 L382.87 333.24 L385.76 333.68 L388.66 334.13 L391.55 334.59 L394.44 335.07 L397.33 335.56 L400.22 336.07 L403.12 336.60 L406.01 337.14 L408.90 337.70 L411.79 338.28 L414.68 338.88 L417.58 339.50 L420.47 340.14 L423.36 340.80 L426.25 341.49 L429.14 342.20 L432.04 342.93 L434.93 343.68 L437.82 344.45 L440.71 345.24 L443.60 346.05 L446.49 346.88 L449.39 347.73 L452.28 348.60 L455.17 349.49 L458.06 350.39 L460.95 351.31 L463.85 352.25 L466.74 353.21 L469.63 354.18 L472.52 355.17 L475.41 356.18 L478.31 357.20 L481.20 358.23 L484.09 359.28 L486.98 360.35 L489.87 361.43 L492.77 362.52 L495.66 363.63 L498.55 364.76 L501.44 365.90 L504.33 367.05 L507.23 368.23 L510.12 369.41 L513.01 370.62 L515.90 371.84 L518.79 373.07 L521.69 374.32 L524.58 375.59 L527.47 376.87 L530.36 378.17 L533.25 379.49 L536.15 380.82 L539.04 382.17 L541.93 383.54 L544.82 384.93 L547.71 386.33 L550.61 387.75 L553.50 389.18 L556.39 390.63 L559.28 392.10 L562.17 393.59 L565.07 395.10 L567.96 396.62 L570.85 398.16 L573.74 399.72 L576.63 401.29 L579.53 402.88 L582.42 404.48 L585.31 406.10 L588.20 407.72 L591.09 409.36 L593.98 411.01 L596.88 412.67 L599.77 414.34 L602.66 416.02 L605.55 417.71 L608.44 419.40 L611.34 421.10 L614.23 422.81 L617.12 424.52 L620.01 426.23 L622.90 427.95 L625.80 429.67 L628.69 431.40 L631.58 433.12 L634.47 434.85 L637.36 436.57 L640.26 438.30 L643.15 440.02 L646.04 441.74 L648.93 443.45 L651.82 445.17 L654.72 446.87 L657.61 448.58 L660.50 450.27" fill="none" stroke="#1e788c" stroke-width="1.7"/>
<path d="M85.00 327.83 L87.89 327.89 L90.78 327.96 L93.68 328.06 L96.57 328.18 L99.46 328.32 L102.35 328.47 L105.24 328.65 L108.14 328.85 L111.03 329.07 L113.92 329.31 L116.81 329.57 L119.70 329.85 L122.60 330.15 L125.49 330.48 L128.38 330.82 L131.27 331.19 L134.16 331.57 L137.06 331.98 L139.95 332.41 L142.84 332.87 L145.73 333.34 L148.62 333.84 L151.52 334.36 L154.41 334.90 L157.30 335.46 L160.19 336.05 L163.08 336.66 L165.97 337.29 L168.87 337.94 L171.76 338.62 L174.65 339.32 L177.54 340.03 L180.43 340.76 L183.33 341.50 L186.22 342.24 L189.11 342.99 L192.00 343.73 L194.50 344.37" fill="none" stroke="#1e788c" stroke-width="1.7" stroke-dasharray="4.4 2.6" stroke-dashoffset="0"/>
<path d="M194.50 344.37 L194.89 344.47 L197.79 345.21 L200.68 345.92 L203.57 346.63 L206.46 347.32 L209.35 347.99 L212.25 348.65 L215.14 349.30 L218.03 349.93 L220.92 350.55 L223.81 351.16 L226.71 351.75 L229.60 352.33 L232.49 352.90 L235.38 353.46 L238.27 354.00 L241.17 354.53 L244.06 355.05 L246.95 355.56 L249.84 356.06 L252.73 356.55 L255.63 357.03 L258.52 357.50 L261.41 357.96 L264.30 358.40 L267.19 358.84 L270.09 359.28 L272.98 359.70 L275.87 360.11 L278.76 360.52 L281.65 360.92 L284.55 361.31 L287.44 361.69 L290.33 362.07 L293.22 362.44 L296.11 362.80 L299.01 363.16 L301.90 363.51 L304.79 363.85 L307.68 364.19 L310.57 364.53 L313.46 364.86 L316.36 365.18 L319.25 365.50 L322.14 365.82 L325.03 366.14 L327.92 366.45 L330.82 366.75 L333.71 367.06 L336.60 367.36 L339.49 367.66 L342.38 367.95 L345.28 368.25 L348.17 368.54 L351.06 368.84 L353.95 369.13 L356.84 369.43 L359.74 369.72 L362.63 370.02 L365.52 370.33 L368.41 370.64 L371.30 370.95 L374.20 371.27 L377.09 371.60 L379.98 371.93 L382.87 372.27 L385.76 372.62 L388.66 372.98 L391.55 373.35 L394.44 373.73 L397.33 374.12 L400.22 374.52 L403.12 374.94 L406.01 375.37 L408.90 375.81 L411.79 376.27 L414.68 376.74 L417.58 377.24 L420.47 377.74 L423.36 378.27 L426.25 378.82 L429.14 379.38 L432.04 379.96 L434.93 380.55 L437.82 381.16 L440.71 381.79 L443.60 382.43 L446.49 383.09 L449.39 383.77 L452.28 384.46 L455.17 385.16 L458.06 385.88 L460.95 386.61 L463.85 387.35 L466.74 388.11 L469.63 388.88 L472.52 389.67 L475.41 390.47 L478.31 391.27 L481.20 392.10 L484.09 392.93 L486.98 393.77 L489.87 394.63 L492.77 395.50 L495.66 396.38 L498.55 397.27 L501.44 398.17 L504.33 399.09 L507.23 400.02 L510.12 400.96 L513.01 401.92 L515.90 402.88 L518.79 403.86 L521.69 404.86 L524.58 405.86 L527.47 406.88 L530.36 407.91 L533.25 408.95 L536.15 410.01 L539.04 411.08 L541.93 412.17 L544.82 413.27 L547.71 414.38 L550.61 415.50 L553.50 416.64 L556.39 417.79 L559.28 418.96 L562.17 420.14 L565.07 421.33 L567.96 422.54 L570.85 423.76 L573.74 425.00 L576.63 426.25 L579.53 427.50 L582.42 428.77 L585.31 430.05 L588.20 431.35 L591.09 432.65 L593.98 433.95 L596.88 435.27 L599.77 436.59 L602.66 437.93 L605.55 439.26 L608.44 440.61 L611.34 441.96 L614.23 443.31 L617.12 444.67 L620.01 446.03 L622.90 447.39 L625.80 448.75 L628.69 450.12 L631.58 451.49 L634.47 452.86 L637.36 454.23 L640.26 455.59 L643.15 456.96 L646.04 458.32 L648.93 459.68 L651.82 461.04 L654.72 462.40 L657.61 463.75 L660.50 465.09" fill="none" stroke="#1e788c" stroke-width="1.7"/>
<path d="M85.00 378.46 L87.89 378.50 L90.78 378.56 L93.68 378.63 L96.57 378.72 L99.46 378.82 L102.35 378.93 L105.24 379.06 L108.14 379.21 L111.03 379.37 L113.92 379.55 L116.81 379.74 L119.70 379.95 L122.60 380.17 L125.49 380.41 L128.38 380.67 L131.27 380.94 L134.16 381.22 L137.06 381.53 L139.95 381.85 L142.84 382.18 L145.73 382.53 L148.62 382.90 L151.52 383.28 L154.41 383.68 L157.30 384.10 L160.19 384.53 L163.08 384.98 L165.97 385.45 L168.87 385.93 L171.76 386.43 L174.65 386.95 L177.54 387.48 L180.43 388.01 L183.33 388.56 L186.22 389.11 L189.11 389.66 L192.00 390.21 L194.50 390.68" fill="none" stroke="#1e788c" stroke-width="1.7" stroke-dasharray="4.4 2.6" stroke-dashoffset="0"/>
<path d="M194.50 390.68 L194.89 390.76 L197.79 391.30 L200.68 391.83 L203.57 392.35 L206.46 392.86 L209.35 393.36 L212.25 393.85 L215.14 394.33 L218.03 394.79 L220.92 395.25 L223.81 395.70 L226.71 396.14 L229.60 396.57 L232.49 396.99 L235.38 397.40 L238.27 397.80 L241.17 398.19 L244.06 398.58 L246.95 398.95 L249.84 399.32 L252.73 399.68 L255.63 400.04 L258.52 400.38 L261.41 400.72 L264.30 401.06 L267.19 401.38 L270.09 401.70 L272.98 402.01 L275.87 402.32 L278.76 402.62 L281.65 402.91 L284.55 403.20 L287.44 403.48 L290.33 403.76 L293.22 404.04 L296.11 404.30 L299.01 404.57 L301.90 404.83 L304.79 405.08 L307.68 405.33 L310.57 405.58 L313.46 405.83 L316.36 406.07 L319.25 406.30 L322.14 406.54 L325.03 406.77 L327.92 407.00 L330.82 407.23 L333.71 407.45 L336.60 407.67 L339.49 407.89 L342.38 408.11 L345.28 408.33 L348.17 408.55 L351.06 408.77 L353.95 408.98 L356.84 409.20 L359.74 409.42 L362.63 409.64 L365.52 409.87 L368.41 410.10 L371.30 410.33 L374.20 410.56 L377.09 410.81 L379.98 411.05 L382.87 411.30 L385.76 411.56 L388.66 411.83 L391.55 412.10 L394.44 412.38 L397.33 412.67 L400.22 412.97 L403.12 413.27 L406.01 413.59 L408.90 413.92 L411.79 414.26 L414.68 414.61 L417.58 414.97 L420.47 415.35 L423.36 415.74 L426.25 416.14 L429.14 416.56 L432.04 416.98 L434.93 417.42 L437.82 417.88 L440.71 418.34 L443.60 418.82 L446.49 419.30 L449.39 419.80 L452.28 420.31 L455.17 420.83 L458.06 421.36 L460.95 421.90 L463.85 422.45 L466.74 423.01 L469.63 423.58 L472.52 424.16 L475.41 424.75 L478.31 425.35 L481.20 425.96 L484.09 426.57 L486.98 427.20 L489.87 427.83 L492.77 428.47 L495.66 429.12 L498.55 429.78 L501.44 430.45 L504.33 431.13 L507.23 431.82 L510.12 432.51 L513.01 433.22 L515.90 433.93 L518.79 434.66 L521.69 435.39 L524.58 436.13 L527.47 436.88 L530.36 437.65 L533.25 438.42 L536.15 439.20 L539.04 439.99 L541.93 440.79 L544.82 441.60 L547.71 442.43 L550.61 443.26 L553.50 444.10 L556.39 444.95 L559.28 445.81 L562.17 446.69 L565.07 447.57 L567.96 448.46 L570.85 449.36 L573.74 450.28 L576.63 451.20 L579.53 452.13 L582.42 453.07 L585.31 454.01 L588.20 454.97 L591.09 455.93 L593.98 456.90 L596.88 457.87 L599.77 458.85 L602.66 459.83 L605.55 460.82 L608.44 461.81 L611.34 462.81 L614.23 463.81 L617.12 464.81 L620.01 465.82 L622.90 466.83 L625.80 467.84 L628.69 468.85 L631.58 469.86 L634.47 470.87 L637.36 471.88 L640.26 472.89 L643.15 473.90 L646.04 474.91 L648.93 475.91 L651.82 476.92 L654.72 477.92 L657.61 478.92 L660.50 479.91" fill="none" stroke="#1e788c" stroke-width="1.7"/>
<path d="M85.00 420.65 L87.89 420.68 L90.78 420.72 L93.68 420.77 L96.57 420.83 L99.46 420.90 L102.35 420.98 L105.24 421.08 L108.14 421.18 L111.03 421.29 L113.92 421.42 L116.81 421.55 L119.70 421.70 L122.60 421.86 L125.49 422.03 L128.38 422.21 L131.27 422.40 L134.16 422.60 L137.06 422.81 L139.95 423.04 L142.84 423.27 L145.73 423.52 L148.62 423.78 L151.52 424.05 L154.41 424.33 L157.30 424.63 L160.19 424.93 L163.08 425.25 L165.97 425.58 L168.87 425.92 L171.76 426.27 L174.65 426.64 L177.54 427.01 L180.43 427.39 L183.33 427.78 L186.22 428.17 L189.11 428.55 L192.00 428.94 L194.50 429.28" fill="none" stroke="#1e788c" stroke-width="1.7" stroke-dasharray="4.4 2.6" stroke-dashoffset="0"/>
<path d="M194.50 429.28 L194.89 429.33 L197.79 429.71 L200.68 430.09 L203.57 430.45 L206.46 430.81 L209.35 431.17 L212.25 431.51 L215.14 431.85 L218.03 432.18 L220.92 432.50 L223.81 432.82 L226.71 433.13 L229.60 433.43 L232.49 433.73 L235.38 434.02 L238.27 434.30 L241.17 434.58 L244.06 434.85 L246.95 435.12 L249.84 435.38 L252.73 435.63 L255.63 435.88 L258.52 436.12 L261.41 436.36 L264.30 436.60 L267.19 436.83 L270.09 437.05 L272.98 437.27 L275.87 437.49 L278.76 437.70 L281.65 437.91 L284.55 438.11 L287.44 438.31 L290.33 438.51 L293.22 438.70 L296.11 438.89 L299.01 439.08 L301.90 439.26 L304.79 439.44 L307.68 439.62 L310.57 439.79 L313.46 439.97 L316.36 440.13 L319.25 440.30 L322.14 440.47 L325.03 440.63 L327.92 440.79 L330.82 440.95 L333.71 441.11 L336.60 441.27 L339.49 441.42 L342.38 441.58 L345.28 441.73 L348.17 441.89 L351.06 442.04 L353.95 442.19 L356.84 442.35 L359.74 442.50 L362.63 442.66 L365.52 442.82 L368.41 442.98 L371.30 443.14 L374.20 443.31 L377.09 443.48 L379.98 443.65 L382.87 443.83 L385.76 444.01 L388.66 444.20 L391.55 444.39 L394.44 444.59 L397.33 444.80 L400.22 445.01 L403.12 445.22 L406.01 445.45 L408.90 445.68 L411.79 445.92 L414.68 446.17 L417.58 446.42 L420.47 446.69 L423.36 446.96 L426.25 447.25 L429.14 447.54 L432.04 447.84 L434.93 448.15 L437.82 448.47 L440.71 448.80 L443.60 449.13 L446.49 449.48 L449.39 449.83 L452.28 450.19 L455.17 450.56 L458.06 450.93 L460.95 451.31 L463.85 451.70 L466.74 452.10 L469.63 452.50 L472.52 452.91 L475.41 453.33 L478.31 453.75 L481.20 454.18 L484.09 454.61 L486.98 455.05 L489.87 455.50 L492.77 455.95 L495.66 456.41 L498.55 456.88 L501.44 457.35 L504.33 457.83 L507.23 458.31 L510.12 458.80 L513.01 459.30 L515.90 459.80 L518.79 460.32 L521.69 460.83 L524.58 461.36 L527.47 461.89 L530.36 462.43 L533.25 462.97 L536.15 463.52 L539.04 464.08 L541.93 464.65 L544.82 465.22 L547.71 465.80 L550.61 466.39 L553.50 466.98 L556.39 467.58 L559.28 468.19 L562.17 468.81 L565.07 469.43 L567.96 470.06 L570.85 470.70 L573.74 471.34 L576.63 471.99 L579.53 472.65 L582.42 473.31 L585.31 473.98 L588.20 474.65 L591.09 475.33 L593.98 476.02 L596.88 476.70 L599.77 477.39 L602.66 478.09 L605.55 478.79 L608.44 479.49 L611.34 480.19 L614.23 480.90 L617.12 481.60 L620.01 482.31 L622.90 483.02 L625.80 483.74 L628.69 484.45 L631.58 485.16 L634.47 485.88 L637.36 486.59 L640.26 487.31 L643.15 488.02 L646.04 488.73 L648.93 489.44 L651.82 490.15 L654.72 490.85 L657.61 491.56 L660.50 492.26" fill="none" stroke="#1e788c" stroke-width="1.7"/>
<path d="M85.00 445.96 L87.89 445.98 L90.78 446.01 L93.68 446.05 L96.57 446.10 L99.46 446.15 L102.35 446.21 L105.24 446.28 L108.14 446.36 L111.03 446.44 L113.92 446.54 L116.81 446.64 L119.70 446.75 L122.60 446.87 L125.49 447.00 L128.38 447.13 L131.27 447.27 L134.16 447.42 L137.06 447.59 L139.95 447.75 L142.84 447.93 L145.73 448.12 L148.62 448.31 L151.52 448.51 L154.41 448.73 L157.30 448.95 L160.19 449.18 L163.08 449.41 L165.97 449.66 L168.87 449.92 L171.76 450.18 L174.65 450.45 L177.54 450.73 L180.43 451.02 L183.33 451.31 L186.22 451.60 L189.11 451.89 L192.00 452.18 L194.50 452.43" fill="none" stroke="#1e788c" stroke-width="1.7" stroke-dasharray="4.4 2.6" stroke-dashoffset="0"/>
<path d="M194.50 452.43 L194.89 452.47 L197.79 452.76 L200.68 453.04 L203.57 453.32 L206.46 453.59 L209.35 453.85 L212.25 454.11 L215.14 454.36 L218.03 454.61 L220.92 454.85 L223.81 455.09 L226.71 455.32 L229.60 455.55 L232.49 455.77 L235.38 455.99 L238.27 456.20 L241.17 456.41 L244.06 456.61 L246.95 456.81 L249.84 457.01 L252.73 457.20 L255.63 457.38 L258.52 457.57 L261.41 457.75 L264.30 457.92 L267.19 458.10 L270.09 458.26 L272.98 458.43 L275.87 458.59 L278.76 458.75 L281.65 458.91 L284.55 459.06 L287.44 459.21 L290.33 459.36 L293.22 459.50 L296.11 459.64 L299.01 459.78 L301.90 459.92 L304.79 460.06 L307.68 460.19 L310.57 460.32 L313.46 460.45 L316.36 460.58 L319.25 460.70 L322.14 460.83 L325.03 460.95 L327.92 461.07 L330.82 461.19 L333.71 461.31 L336.60 461.43 L339.49 461.54 L342.38 461.66 L345.28 461.77 L348.17 461.89 L351.06 462.01 L353.95 462.12 L356.84 462.24 L359.74 462.35 L362.63 462.47 L365.52 462.59 L368.41 462.71 L371.30 462.83 L374.20 462.96 L377.09 463.09 L379.98 463.22 L382.87 463.35 L385.76 463.49 L388.66 463.63 L391.55 463.77 L394.44 463.92 L397.33 464.07 L400.22 464.23 L403.12 464.39 L406.01 464.56 L408.90 464.73 L411.79 464.91 L414.68 465.10 L417.58 465.29 L420.47 465.49 L423.36 465.70 L426.25 465.91 L429.14 466.13 L432.04 466.36 L434.93 466.59 L437.82 466.83 L440.71 467.07 L443.60 467.33 L446.49 467.58 L449.39 467.85 L452.28 468.12 L455.17 468.39 L458.06 468.67 L460.95 468.96 L463.85 469.25 L466.74 469.55 L469.63 469.85 L472.52 470.16 L475.41 470.47 L478.31 470.79 L481.20 471.11 L484.09 471.43 L486.98 471.76 L489.87 472.10 L492.77 472.44 L495.66 472.78 L498.55 473.13 L501.44 473.49 L504.33 473.84 L507.23 474.21 L510.12 474.58 L513.01 474.95 L515.90 475.33 L518.79 475.71 L521.69 476.10 L524.58 476.49 L527.47 476.89 L530.36 477.30 L533.25 477.70 L536.15 478.12 L539.04 478.54 L541.93 478.96 L544.82 479.39 L547.71 479.83 L550.61 480.27 L553.50 480.71 L556.39 481.16 L559.28 481.62 L562.17 482.08 L565.07 482.55 L567.96 483.02 L570.85 483.50 L573.74 483.98 L576.63 484.47 L579.53 484.96 L582.42 485.46 L585.31 485.96 L588.20 486.47 L591.09 486.97 L593.98 487.49 L596.88 488.00 L599.77 488.52 L602.66 489.04 L605.55 489.56 L608.44 490.09 L611.34 490.62 L614.23 491.15 L617.12 491.68 L620.01 492.21 L622.90 492.74 L625.80 493.28 L628.69 493.81 L631.58 494.35 L634.47 494.88 L637.36 495.42 L640.26 495.95 L643.15 496.49 L646.04 497.02 L648.93 497.55 L651.82 498.09 L654.72 498.62 L657.61 499.14 L660.50 499.67" fill="none" stroke="#1e788c" stroke-width="1.7"/>
<path d="M85.00 462.83 L87.89 462.85 L90.78 462.88 L93.68 462.91 L96.57 462.94 L99.46 462.98 L102.35 463.03 L105.24 463.09 L108.14 463.15 L111.03 463.21 L113.92 463.29 L116.81 463.36 L119.70 463.45 L122.60 463.54 L125.49 463.64 L128.38 463.75 L131.27 463.86 L134.16 463.97 L137.06 464.10 L139.95 464.23 L142.84 464.37 L145.73 464.51 L148.62 464.66 L151.52 464.82 L154.41 464.99 L157.30 465.16 L160.19 465.34 L163.08 465.52 L165.97 465.71 L168.87 465.91 L171.76 466.12 L174.65 466.33 L177.54 466.55 L180.43 466.77 L183.33 466.99 L186.22 467.22 L189.11 467.45 L192.00 467.68 L194.50 467.87" fill="none" stroke="#1e788c" stroke-width="1.7" stroke-dasharray="4.4 2.6" stroke-dashoffset="0"/>
<path d="M194.50 467.87 L194.89 467.90 L197.79 468.12 L200.68 468.34 L203.57 468.56 L206.46 468.77 L209.35 468.97 L212.25 469.17 L215.14 469.37 L218.03 469.56 L220.92 469.75 L223.81 469.94 L226.71 470.12 L229.60 470.29 L232.49 470.47 L235.38 470.63 L238.27 470.80 L241.17 470.96 L244.06 471.12 L246.95 471.28 L249.84 471.43 L252.73 471.58 L255.63 471.72 L258.52 471.86 L261.41 472.00 L264.30 472.14 L267.19 472.27 L270.09 472.41 L272.98 472.53 L275.87 472.66 L278.76 472.78 L281.65 472.90 L284.55 473.02 L287.44 473.14 L290.33 473.26 L293.22 473.37 L296.11 473.48 L299.01 473.59 L301.90 473.69 L304.79 473.80 L307.68 473.90 L310.57 474.00 L313.46 474.10 L316.36 474.20 L319.25 474.30 L322.14 474.40 L325.03 474.49 L327.92 474.59 L330.82 474.68 L333.71 474.77 L336.60 474.87 L339.49 474.96 L342.38 475.05 L345.28 475.14 L348.17 475.23 L351.06 475.32 L353.95 475.40 L356.84 475.49 L359.74 475.59 L362.63 475.68 L365.52 475.77 L368.41 475.86 L371.30 475.96 L374.20 476.06 L377.09 476.16 L379.98 476.26 L382.87 476.36 L385.76 476.47 L388.66 476.58 L391.55 476.69 L394.44 476.80 L397.33 476.92 L400.22 477.05 L403.12 477.17 L406.01 477.30 L408.90 477.44 L411.79 477.58 L414.68 477.72 L417.58 477.87 L420.47 478.03 L423.36 478.19 L426.25 478.35 L429.14 478.52 L432.04 478.70 L434.93 478.88 L437.82 479.07 L440.71 479.26 L443.60 479.45 L446.49 479.65 L449.39 479.86 L452.28 480.07 L455.17 480.28 L458.06 480.50 L460.95 480.72 L463.85 480.95 L466.74 481.18 L469.63 481.42 L472.52 481.66 L475.41 481.90 L478.31 482.14 L481.20 482.39 L484.09 482.65 L486.98 482.90 L489.87 483.17 L492.77 483.43 L495.66 483.70 L498.55 483.97 L501.44 484.24 L504.33 484.52 L507.23 484.81 L510.12 485.09 L513.01 485.38 L515.90 485.68 L518.79 485.98 L521.69 486.28 L524.58 486.58 L527.47 486.89 L530.36 487.21 L533.25 487.53 L536.15 487.85 L539.04 488.17 L541.93 488.50 L544.82 488.84 L547.71 489.18 L550.61 489.52 L553.50 489.86 L556.39 490.22 L559.28 490.57 L562.17 490.93 L565.07 491.29 L567.96 491.66 L570.85 492.03 L573.74 492.41 L576.63 492.79 L579.53 493.17 L582.42 493.56 L585.31 493.95 L588.20 494.34 L591.09 494.74 L593.98 495.13 L596.88 495.53 L599.77 495.94 L602.66 496.34 L605.55 496.75 L608.44 497.16 L611.34 497.57 L614.23 497.98 L617.12 498.39 L620.01 498.81 L622.90 499.22 L625.80 499.64 L628.69 500.05 L631.58 500.47 L634.47 500.89 L637.36 501.30 L640.26 501.72 L643.15 502.14 L646.04 502.55 L648.93 502.96 L651.82 503.38 L654.72 503.79 L657.61 504.20 L660.50 504.61" fill="none" stroke="#1e788c" stroke-width="1.7"/>
<path d="M85.00 479.71 L87.89 479.72 L90.78 479.74 L93.68 479.76 L96.57 479.79 L99.46 479.82 L102.35 479.85 L105.24 479.89 L108.14 479.93 L111.03 479.98 L113.92 480.03 L116.81 480.09 L119.70 480.15 L122.60 480.22 L125.49 480.29 L128.38 480.36 L131.27 480.44 L134.16 480.52 L137.06 480.61 L139.95 480.71 L142.84 480.81 L145.73 480.91 L148.62 481.02 L151.52 481.13 L154.41 481.25 L157.30 481.37 L160.19 481.50 L163.08 481.63 L165.97 481.77 L168.87 481.91 L171.76 482.06 L174.65 482.21 L177.54 482.36 L180.43 482.52 L183.33 482.68 L186.22 482.84 L189.11 483.01 L192.00 483.17 L194.50 483.31" fill="none" stroke="#1e788c" stroke-width="1.7" stroke-dasharray="4.4 2.6" stroke-dashoffset="0"/>
<path d="M194.50 483.31 L194.89 483.33 L197.79 483.49 L200.68 483.64 L203.57 483.80 L206.46 483.95 L209.35 484.09 L212.25 484.24 L215.14 484.38 L218.03 484.52 L220.92 484.65 L223.81 484.78 L226.71 484.91 L229.60 485.04 L232.49 485.16 L235.38 485.28 L238.27 485.40 L241.17 485.52 L244.06 485.63 L246.95 485.74 L249.84 485.85 L252.73 485.95 L255.63 486.06 L258.52 486.16 L261.41 486.26 L264.30 486.36 L267.19 486.45 L270.09 486.55 L272.98 486.64 L275.87 486.73 L278.76 486.82 L281.65 486.90 L284.55 486.99 L287.44 487.07 L290.33 487.15 L293.22 487.23 L296.11 487.31 L299.01 487.39 L301.90 487.47 L304.79 487.54 L307.68 487.62 L310.57 487.69 L313.46 487.76 L316.36 487.83 L319.25 487.90 L322.14 487.97 L325.03 488.04 L327.92 488.11 L330.82 488.17 L333.71 488.24 L336.60 488.30 L339.49 488.37 L342.38 488.43 L345.28 488.50 L348.17 488.56 L351.06 488.63 L353.95 488.69 L356.84 488.75 L359.74 488.82 L362.63 488.88 L365.52 488.95 L368.41 489.02 L371.30 489.09 L374.20 489.15 L377.09 489.23 L379.98 489.30 L382.87 489.37 L385.76 489.45 L388.66 489.53 L391.55 489.61 L394.44 489.69 L397.33 489.77 L400.22 489.86 L403.12 489.95 L406.01 490.04 L408.90 490.14 L411.79 490.24 L414.68 490.34 L417.58 490.45 L420.47 490.56 L423.36 490.68 L426.25 490.79 L429.14 490.92 L432.04 491.04 L434.93 491.17 L437.82 491.30 L440.71 491.44 L443.60 491.58 L446.49 491.72 L449.39 491.87 L452.28 492.02 L455.17 492.17 L458.06 492.33 L460.95 492.49 L463.85 492.65 L466.74 492.82 L469.63 492.98 L472.52 493.15 L475.41 493.33 L478.31 493.50 L481.20 493.68 L484.09 493.86 L486.98 494.05 L489.87 494.23 L492.77 494.42 L495.66 494.61 L498.55 494.81 L501.44 495.00 L504.33 495.20 L507.23 495.40 L510.12 495.61 L513.01 495.82 L515.90 496.03 L518.79 496.24 L521.69 496.46 L524.58 496.67 L527.47 496.90 L530.36 497.12 L533.25 497.35 L536.15 497.58 L539.04 497.81 L541.93 498.05 L544.82 498.28 L547.71 498.53 L550.61 498.77 L553.50 499.02 L556.39 499.27 L559.28 499.52 L562.17 499.78 L565.07 500.04 L567.96 500.30 L570.85 500.57 L573.74 500.83 L576.63 501.11 L579.53 501.38 L582.42 501.66 L585.31 501.93 L588.20 502.21 L591.09 502.50 L593.98 502.78 L596.88 503.07 L599.77 503.36 L602.66 503.64 L605.55 503.94 L608.44 504.23 L611.34 504.52 L614.23 504.81 L617.12 505.11 L620.01 505.41 L622.90 505.70 L625.80 506.00 L628.69 506.30 L631.58 506.59 L634.47 506.89 L637.36 507.19 L640.26 507.49 L643.15 507.78 L646.04 508.08 L648.93 508.37 L651.82 508.67 L654.72 508.96 L657.61 509.26 L660.50 509.55" fill="none" stroke="#1e788c" stroke-width="1.7"/>
<path d="M85.00 629.50 L88.86 628.32 L92.72 627.12 L96.59 625.92 L100.45 624.72 L104.31 623.51 L108.17 622.29 L112.04 621.08 L115.90 619.86 L119.76 618.64 L123.62 617.42 L127.49 616.19 L131.35 614.97 L135.21 613.75 L139.07 612.53 L142.94 611.31 L146.80 610.10 L150.66 608.88 L154.52 607.68 L158.39 606.47 L162.25 605.27 L166.11 604.08 L169.97 602.89 L173.84 601.71 L177.70 600.54 L181.56 599.38 L185.42 598.22 L189.29 597.08 L193.15 595.94 L197.01 594.82 L200.87 593.71 L204.73 592.61 L208.60 591.52 L212.46 590.45 L216.32 589.39 L220.18 588.34 L224.05 587.31 L227.91 586.29 L231.77 585.28 L235.63 584.28 L239.50 583.30 L243.36 582.32 L247.22 581.35 L251.08 580.39 L254.95 579.44 L258.81 578.50 L262.67 577.57 L266.53 576.64 L270.40 575.72 L274.26 574.80 L278.12 573.89 L281.98 572.98 L285.85 572.08 L289.71 571.18 L293.57 570.29 L297.43 569.41 L301.30 568.54 L305.16 567.68 L309.02 566.83 L312.88 566.00 L316.74 565.18 L320.61 564.37 L324.47 563.59 L328.33 562.82 L332.19 562.07 L336.06 561.34 L339.92 560.63 L343.78 559.95 L347.64 559.28 L351.51 558.64 L355.37 558.03 L359.23 557.43 L363.09 556.85 L366.96 556.30 L370.82 555.76 L374.68 555.24 L378.54 554.74 L382.41 554.26 L386.27 553.80 L390.13 553.35 L393.99 552.92 L397.86 552.50 L401.72 552.10 L405.58 551.71 L409.44 551.34 L413.31 550.98 L417.17 550.63 L421.03 550.30 L424.89 549.98 L428.76 549.68 L432.62 549.39 L436.48 549.11 L440.34 548.85 L444.20 548.60 L448.07 548.37 L451.93 548.15 L455.79 547.94 L459.65 547.75 L463.52 547.57 L467.38 547.41 L471.24 547.26 L475.10 547.12 L478.97 547.01 L482.83 546.92 L486.69 546.85 L490.55 546.82 L494.42 546.82 L498.28 546.86 L502.14 546.94 L506.00 547.06 L509.87 547.22 L513.73 547.43 L517.59 547.68 L521.45 547.98 L525.32 548.31 L529.18 548.70 L533.04 549.12 L536.90 549.59 L540.77 550.11 L544.63 550.66 L548.49 551.26 L552.35 551.91 L556.21 552.59 L560.08 553.32 L563.94 554.09 L567.80 554.90 L571.66 555.76 L575.53 556.66 L579.39 557.60 L583.25 558.58 L587.11 559.61 L590.98 560.69 L594.84 561.81 L598.70 562.99 L602.56 564.21 L606.43 565.48 L610.29 566.80 L614.15 568.18 L618.01 569.61 L621.88 571.09 L625.74 572.62 L629.60 574.21 L633.46 575.86 L637.33 577.57 L641.19 579.33 L645.05 581.15 L648.91 583.03 L652.78 584.98 L656.64 586.98 L660.50 589.05" fill="none" stroke="#1e788c" stroke-width="1.7"/>
<g stroke="#5c5c5c" stroke-width="1.4" fill="none">
<rect x="85.00" y="119.80" width="639.50" height="402.10" rx="1.2"/>
<rect x="85.00" y="534.90" width="639.50" height="94.50" rx="1.2"/>
</g>
<g stroke="#4a4a4a" stroke-width="1.0" fill="none">
<line x1="84.50" y1="102.70" x2="725.00" y2="102.70"/>
<line x1="85.00" y1="99.10" x2="85.00" y2="102.70"/>
<line x1="145.57" y1="99.10" x2="145.57" y2="102.70"/>
<line x1="206.13" y1="99.10" x2="206.13" y2="102.70"/>
<line x1="266.70" y1="99.10" x2="266.70" y2="102.70"/>
<line x1="327.27" y1="99.10" x2="327.27" y2="102.70"/>
<line x1="387.83" y1="99.10" x2="387.83" y2="102.70"/>
<line x1="448.40" y1="99.10" x2="448.40" y2="102.70"/>
<line x1="508.97" y1="99.10" x2="508.97" y2="102.70"/>
<line x1="569.53" y1="99.10" x2="569.53" y2="102.70"/>
<line x1="630.10" y1="99.10" x2="630.10" y2="102.70"/>
<line x1="690.67" y1="99.10" x2="690.67" y2="102.70"/>
<line x1="85.00" y1="116.20" x2="85.00" y2="119.80"/>
<line x1="157.65" y1="116.20" x2="157.65" y2="119.80"/>
<line x1="230.30" y1="116.20" x2="230.30" y2="119.80"/>
<line x1="302.95" y1="116.20" x2="302.95" y2="119.80"/>
<line x1="375.60" y1="116.20" x2="375.60" y2="119.80"/>
<line x1="448.25" y1="116.20" x2="448.25" y2="119.80"/>
<line x1="520.90" y1="116.20" x2="520.90" y2="119.80"/>
<line x1="593.55" y1="116.20" x2="593.55" y2="119.80"/>
<line x1="666.20" y1="116.20" x2="666.20" y2="119.80"/>
<line x1="724.50" y1="521.90" x2="728.80" y2="521.90"/>
<line x1="724.50" y1="458.90" x2="728.80" y2="458.90"/>
<line x1="724.50" y1="399.28" x2="728.80" y2="399.28"/>
<line x1="724.50" y1="339.66" x2="728.80" y2="339.66"/>
<line x1="724.50" y1="280.04" x2="728.80" y2="280.04"/>
<line x1="724.50" y1="220.42" x2="728.80" y2="220.42"/>
<line x1="724.50" y1="160.80" x2="728.80" y2="160.80"/>
<line x1="84.50" y1="645.80" x2="725.00" y2="645.80"/>
<line x1="85.00" y1="645.80" x2="85.00" y2="649.80"/>
<line x1="138.33" y1="645.80" x2="138.33" y2="649.80"/>
<line x1="191.67" y1="645.80" x2="191.67" y2="649.80"/>
<line x1="245.00" y1="645.80" x2="245.00" y2="649.80"/>
<line x1="298.33" y1="645.80" x2="298.33" y2="649.80"/>
<line x1="351.67" y1="645.80" x2="351.67" y2="649.80"/>
<line x1="405.00" y1="645.80" x2="405.00" y2="649.80"/>
<line x1="458.33" y1="645.80" x2="458.33" y2="649.80"/>
<line x1="511.67" y1="645.80" x2="511.67" y2="649.80"/>
<line x1="565.00" y1="645.80" x2="565.00" y2="649.80"/>
<line x1="618.33" y1="645.80" x2="618.33" y2="649.80"/>
<line x1="671.67" y1="645.80" x2="671.67" y2="649.80"/>
</g>
<text class="t" x="85.00" y="95.90" text-anchor="middle">0</text>
<text class="t" x="145.57" y="95.90" text-anchor="middle">5</text>
<text class="t" x="206.13" y="95.90" text-anchor="middle">10</text>
<text class="t" x="266.70" y="95.90" text-anchor="middle">15</text>
<text class="t" x="327.27" y="95.90" text-anchor="middle">20</text>
<text class="t" x="387.83" y="95.90" text-anchor="middle">25</text>
<text class="t" x="448.40" y="95.90" text-anchor="middle">30</text>
<text class="t" x="508.97" y="95.90" text-anchor="middle">35</text>
<text class="t" x="569.53" y="95.90" text-anchor="middle">40</text>
<text class="t" x="630.10" y="95.90" text-anchor="middle">45</text>
<text class="t" x="724.70" y="94.90" text-anchor="end" style="font-size:9.25px">US g.p.m</text>
<text class="t" x="85.00" y="113.00" text-anchor="middle">0</text>
<text class="t" x="157.65" y="113.00" text-anchor="middle">5</text>
<text class="t" x="230.30" y="113.00" text-anchor="middle">10</text>
<text class="t" x="302.95" y="113.00" text-anchor="middle">15</text>
<text class="t" x="375.60" y="113.00" text-anchor="middle">20</text>
<text class="t" x="448.25" y="113.00" text-anchor="middle">25</text>
<text class="t" x="520.90" y="113.00" text-anchor="middle">30</text>
<text class="t" x="593.55" y="113.00" text-anchor="middle">35</text>
<text class="t" x="666.20" y="113.00" text-anchor="middle">40</text>
<text class="t" x="724.70" y="111.60" text-anchor="end" style="font-size:9.25px">Imp g.p.m</text>
<text class="t" x="81.00" y="525.50" text-anchor="end">0</text>
<text class="t" x="81.00" y="458.48" text-anchor="end">50</text>
<text class="t" x="81.00" y="391.47" text-anchor="end">100</text>
<text class="t" x="81.00" y="324.45" text-anchor="end">150</text>
<text class="t" x="81.00" y="257.43" text-anchor="end">200</text>
<text class="t" x="81.00" y="190.42" text-anchor="end">250</text>
<text class="t" x="81.00" y="123.40" text-anchor="end">300</text>
<text class="t" x="731.00" y="125.70" text-anchor="start">feet</text>
<text class="t" x="731.00" y="525.50" text-anchor="start">0</text>
<text class="t" x="731.00" y="462.50" text-anchor="start">150</text>
<text class="t" x="731.00" y="402.88" text-anchor="start">300</text>
<text class="t" x="731.00" y="343.26" text-anchor="start">450</text>
<text class="t" x="731.00" y="283.64" text-anchor="start">600</text>
<text class="t" x="731.00" y="224.02" text-anchor="start">750</text>
<text class="t" x="731.00" y="164.40" text-anchor="start">900</text>
<text class="t" x="81.00" y="633.00" text-anchor="end">0</text>
<text class="t" x="81.00" y="606.00" text-anchor="end">20</text>
<text class="t" x="81.00" y="579.00" text-anchor="end">40</text>
<text class="t" x="81.00" y="552.00" text-anchor="end">60</text>
<text class="t" x="78.20" y="538.30" text-anchor="end"><tspan font-weight="bold" stroke-width="0.4">Eta</tspan>(%)</text>
<text class="t" x="85.00" y="640.40" text-anchor="middle">0</text>
<text class="t" x="149.00" y="640.40" text-anchor="middle">20</text>
<text class="t" x="213.00" y="640.40" text-anchor="middle">40</text>
<text class="t" x="277.00" y="640.40" text-anchor="middle">60</text>
<text class="t" x="341.00" y="640.40" text-anchor="middle">80</text>
<text class="t" x="405.00" y="640.40" text-anchor="middle">100</text>
<text class="t" x="469.00" y="640.40" text-anchor="middle">120</text>
<text class="t" x="533.00" y="640.40" text-anchor="middle">140</text>
<text class="t" x="597.00" y="640.40" text-anchor="middle">160</text>
<text class="t" x="661.00" y="640.40" text-anchor="middle">180</text>
<text class="t" x="725.30" y="640.90" text-anchor="end">l/min</text>
<text class="t" x="85.00" y="658.60" text-anchor="middle">0</text>
<text class="t" x="138.33" y="658.60" text-anchor="middle">1</text>
<text class="t" x="191.67" y="658.60" text-anchor="middle">2</text>
<text class="t" x="245.00" y="658.60" text-anchor="middle">3</text>
<text class="t" x="298.33" y="658.60" text-anchor="middle">4</text>
<text class="t" x="351.67" y="658.60" text-anchor="middle">5</text>
<text class="t" x="405.00" y="658.60" text-anchor="middle">6</text>
<text class="t" x="458.33" y="658.60" text-anchor="middle">7</text>
<text class="t" x="511.67" y="658.60" text-anchor="middle">8</text>
<text class="t" x="565.00" y="658.60" text-anchor="middle">9</text>
<text class="t" x="618.33" y="658.60" text-anchor="middle">10</text>
<text class="t" x="671.67" y="658.60" text-anchor="middle">11</text>
<text class="t" x="725.50" y="658.60" text-anchor="end">m³/h</text>
<text class="bb" x="216.00" y="177.75" font-size="10.4px" fill="#b02630" stroke="#b02630">4XR8/45-7.5</text>
<text class="bb" x="216.00" y="241.00" font-size="10.4px" fill="#111111" stroke="#111111">4XR8/37-5.5</text>
<text class="bb" x="216.00" y="301.00" font-size="10.4px" fill="#111111" stroke="#111111">4XR8/29-4</text>
<text class="bb" x="216.00" y="345.60" font-size="10.4px" fill="#111111" stroke="#111111">4XR8/23-3</text>
<text class="bb" x="216.00" y="393.70" font-size="10.4px" fill="#111111" stroke="#111111">4XR(m)8/17-2.2</text>
<text class="bb" x="216.00" y="430.00" font-size="10.4px" fill="#111111" stroke="#111111">4XR(m)8/12-1.5</text>
<text class="bb" x="216.00" y="452.40" font-size="10.4px" fill="#111111" stroke="#111111">4XR(m)8/9-1.1</text>
<text class="bb" x="216.00" y="468.50" font-size="10.4px" fill="#111111" stroke="#111111">4XR(m)8/7-0.75</text>
<text class="bb" x="216.00" y="483.20" font-size="10.4px" fill="#111111" stroke="#111111">4XR(m)8/5-0.55</text>
<text class="bb" x="350.00" y="701.90" font-size="13.65px" fill="#111111" stroke="#111111">Capacity Q</text>
<path d="M433.00 694.40 L442.60 698.10 L433.00 701.80 Z" fill="#111111"/>
<text class="bb" transform="translate(32.00 376.70) rotate(-90)" font-size="13.35px" fill="#111111" stroke="#111111">Total manometric head H(m)</text>
<path d="M24.90 188.70 L28.60 180.10 L32.30 188.70 Z" fill="#111111"/>
</svg>
</body>
</html>
